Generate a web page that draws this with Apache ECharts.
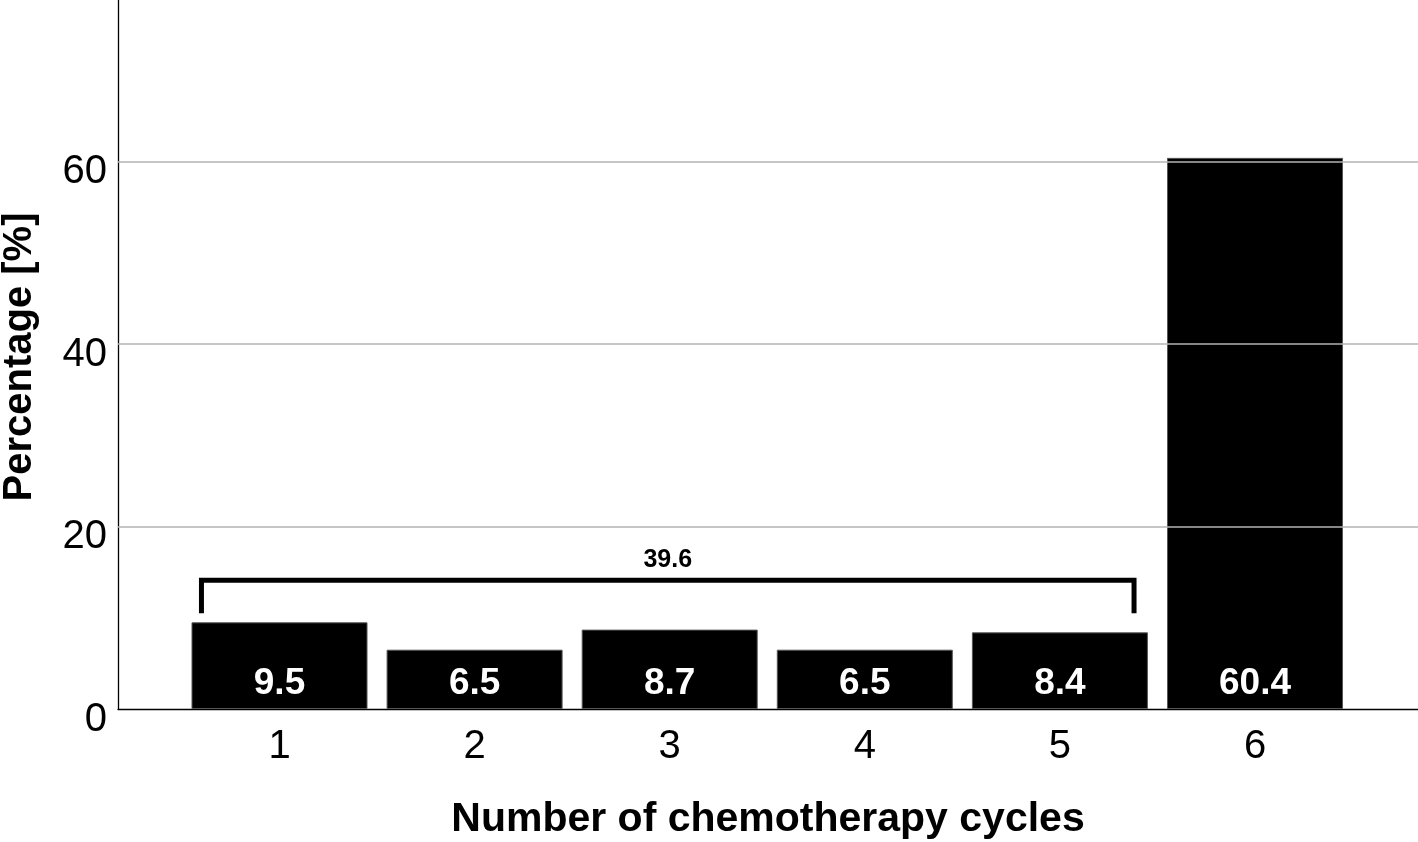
<!DOCTYPE html>
<html>
<head>
<meta charset="utf-8">
<script src="https://cdn.jsdelivr.net/npm/echarts@6/dist/echarts.min.js"></script>
<style>
html,body{margin:0;padding:0;background:#fff;}
#chart{width:1418px;height:842px;}
</style>
</head>
<body>
<div id="chart"></div>
<script>
const categories = ['1', '2', '3', '4', '5', '6'];
const percentages = [9.5, 6.5, 8.7, 6.5, 8.4, 60.4];
const yMin = 0;
const yMax = 77.7;
const yInterval = 20;
const yGridValues = [20, 40, 60];
const xAxisTitle = 'Number of chemotherapy cycles';
const yAxisTitle = 'Percentage [%]';
// bracket spanning cycles 1-5 (x in category-index units, y in %)
const bracketX = [-0.4, 4.38];
const bracketTop = 14.1;
const bracketEnd = 10.5;
const bracketLabel = '39.6';

const FONT = '"Liberation Sans", Arial, sans-serif';
const chart = echarts.init(document.getElementById('chart'), null, {renderer: 'canvas'});

const bracketData = [
  [bracketX[0], bracketEnd],
  [bracketX[0], bracketTop],
  [bracketX[1], bracketTop],
  [bracketX[1], bracketEnd]
];

chart.setOption({
  animation: false,
  backgroundColor: '#fff',
  grid: [
    {left: 118, right: 0, top: 0, bottom: 133, containLabel: false, outerBoundsMode: 'none'},
    {left: 181.95, right: 65.45, top: 0, bottom: 133, containLabel: false, outerBoundsMode: 'none'}
  ],
  xAxis: [
    {
      gridIndex: 0, type: 'value', min: 0, max: 1,
      axisLine: {show: true, onZero: false, lineStyle: {color: '#000', width: 1.3}},
      axisTick: {show: false}, axisLabel: {show: false}, splitLine: {show: false},
      name: xAxisTitle, nameLocation: 'middle', nameGap: 90,
      nameTextStyle: {fontFamily: FONT, fontSize: 41, fontWeight: 'bold', color: '#000'}
    },
    {
      gridIndex: 1, type: 'category', data: categories,
      axisLine: {show: false}, axisTick: {show: false},
      axisLabel: {fontFamily: FONT, fontSize: 40, color: '#000', margin: 18}
    },
    {
      gridIndex: 1, type: 'value', min: -0.5, max: 5.5, show: false
    }
  ],
  yAxis: [
    {
      gridIndex: 0, type: 'value', min: yMin, max: yMax, interval: yInterval,
      axisLine: {show: true, lineStyle: {color: '#000', width: 1.3}},
      axisTick: {show: false},
      axisLabel: {margin: 11,
        formatter: v => (v % yInterval === 0) ? '{v|' + v + '}' : '',
        rich: {v: {fontFamily: FONT, fontSize: 40, color: '#000', padding: [21, 0, 0, 0]}}},
      splitLine: {show: false}
    },
    {
      gridIndex: 1, type: 'value', min: yMin, max: yMax, show: false
    }
  ],
  graphic: [
    {
      type: 'text', x: 20, y: 357, rotation: Math.PI / 2,
      style: {text: yAxisTitle, font: 'bold 40px ' + FONT, fill: '#000',
        textAlign: 'center', textVerticalAlign: 'middle'}
    }
  ],
  series: [
    {
      type: 'line', xAxisIndex: 0, yAxisIndex: 0, data: [], z: 0, silent: true,
      markLine: {
        silent: true, symbol: 'none', label: {show: false},
        lineStyle: {color: '#b3b3b3', width: 1.5, type: 'solid'},
        data: yGridValues.map(v => ({yAxis: v}))
      }
    },
    {
      type: 'bar', xAxisIndex: 1, yAxisIndex: 1, z: 3,
      data: percentages, barWidth: 176,
      itemStyle: {color: '#000', borderColor: '#555', borderWidth: 1},
      label: {show: true, position: 'insideBottom', distance: 7,
        color: '#fff', fontFamily: FONT, fontSize: 37, fontWeight: 'bold',
        formatter: p => p.value.toFixed(1)}
    },
    {
      type: 'line', xAxisIndex: 2, yAxisIndex: 1, z: 3,
      data: bracketData, symbol: 'none', silent: true,
      lineStyle: {color: '#000', width: 5, cap: 'butt', join: 'miter'}
    },
    {
      type: 'scatter', xAxisIndex: 2, yAxisIndex: 1, z: 3,
      data: [[(bracketX[0] + bracketX[1]) / 2, bracketTop]],
      symbolSize: 0, silent: true,
      itemStyle: {opacity: 1},
      label: {show: true, position: 'top', distance: 8, formatter: bracketLabel, opacity: 1,
        color: '#000', fontFamily: FONT, fontSize: 25, fontWeight: 'bold'}
    }
  ]
});
</script>
</body>
</html>
